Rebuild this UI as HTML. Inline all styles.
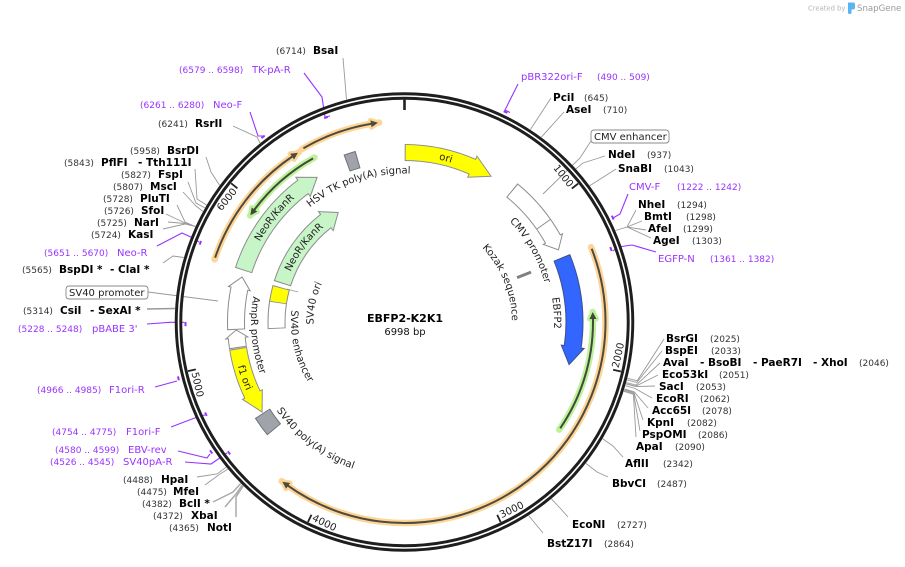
<!DOCTYPE html>
<html><head><meta charset="utf-8"><style>
html,body{margin:0;padding:0;background:#fff;width:905px;height:567px;overflow:hidden}
svg{display:block}
text{font-family:"DejaVu Sans","Liberation Sans",sans-serif}
.n{font-weight:bold;font-size:10.5px;fill:#000}
.p{font-size:9px;fill:#333}
.pr{font-size:10px;fill:#9933ff}
.pp{font-size:9px;fill:#9933ff}
.f{font-size:10px;fill:#222}
.t{font-size:10px;fill:#222}
</style></head><body>
<svg width="905" height="567" viewBox="0 0 905 567" xmlns="http://www.w3.org/2000/svg">
<defs>
<path id="cw166" d="M404.5,488 A166,166 0 1,1 404.5,156 A166,166 0 1,1 404.5,488"/>
<path id="cw165" d="M404.5,487.5 A165.5,165.5 0 1,1 404.5,156.5 A165.5,165.5 0 1,1 404.5,487.5"/>
<path id="cw124" d="M404.5,446.5 A124.5,124.5 0 1,1 404.5,197.5 A124.5,124.5 0 1,1 404.5,446.5"/>
<path id="cw148" d="M404.5,470.5 A148.5,148.5 0 1,1 404.5,173.5 A148.5,148.5 0 1,1 404.5,470.5"/>
<path id="cw145" d="M404.5,467.5 A145.5,145.5 0 1,1 404.5,176.5 A145.5,145.5 0 1,1 404.5,467.5"/>
<path id="cw107" d="M404.5,429.5 A107.5,107.5 0 1,1 404.5,214.5 A107.5,107.5 0 1,1 404.5,429.5"/>
<path id="cw149" d="M404.5,471.5 A149.5,149.5 0 1,1 404.5,172.5 A149.5,149.5 0 1,1 404.5,471.5"/>
<path id="cw91" d="M404.5,413 A91,91 0 1,1 404.5,231 A91,91 0 1,1 404.5,413"/>
<path id="ccw153" d="M404.5,168.5 A153.5,153.5 0 1,0 404.5,475.5 A153.5,153.5 0 1,0 404.5,168.5"/>
<path id="ccw113" d="M404.5,208.5 A113.5,113.5 0 1,0 404.5,435.5 A113.5,113.5 0 1,0 404.5,208.5"/>
<path id="ccw155" d="M404.5,166.5 A155.5,155.5 0 1,0 404.5,477.5 A155.5,155.5 0 1,0 404.5,166.5"/>
<path id="ccw172" d="M404.5,149.5 A172.5,172.5 0 1,0 404.5,494.5 A172.5,172.5 0 1,0 404.5,149.5"/>
</defs>

<!-- enzyme connector lines -->
<g fill="none" stroke="#999" stroke-width="0.9">
<polyline points="343,58 346.5,99.4"/>
<polyline points="233,126 257,137 260,143"/>
<polyline points="206,157 211,172 219.6,185.2"/>
<polyline points="195,169 197,199 206.5,205"/>
<polyline points="188,182 196,203 204.8,207.9"/>
<polyline points="183,192 196,206 202.8,211.4"/>
<polyline points="177,205 185,222 195.2,226.5"/>
<polyline points="166,214 185,223 195.2,226.5"/>
<polyline points="168,222 185,223.5 195.2,226.5"/>
<polyline points="163,229 185,224 195.2,226.5"/>
<polyline points="163,263 173,256 183.7,257.5"/>
<polyline points="148,292 218,301"/>
<polyline points="147,309 174.9,308.5" stroke-width="1.6"/>
<polyline points="197,477 217,474 226.1,467.2"/>
<polyline points="205,485 220,474 227.8,469.2"/>
<polyline points="213,502 233,492 240.7,483.5" stroke="#aaa" stroke-width="1.5"/>
<polyline points="225,507 236,494 242.2,485" stroke="#aaa" stroke-width="1.5"/>
<polyline points="236,517 236,497 243.2,486" stroke="#aaa" stroke-width="1.5"/>
<polyline points="530.4,129.5 551,98"/>
<polyline points="541.4,137.1 564,112"/>
<polyline points="591,141 580,158 543,194"/>
<polyline points="576,168.8 583,163 605,156"/>
<polyline points="589.7,185.7 616,169"/>
<polyline points="615.5,230.5 627,227 636,210"/>
<polyline points="627,227 642,221"/>
<polyline points="627,227 646,230"/>
<polyline points="627,227 651,238"/>
<polyline points="627.5,378.3 637.2,380.8 664,339"/>
<polyline points="627.1,379.9 636.8,382.5 662,351"/>
<polyline points="626.4,382.5 636.1,385.1 660,363"/>
<polyline points="626.1,383.5 635.8,386.2 658,375"/>
<polyline points="626.0,383.9 635.7,386.6 655,386"/>
<polyline points="625.5,385.7 635.1,388.5 652,398"/>
<polyline points="624.6,388.9 634.1,391.8 648,408"/>
<polyline points="624.3,389.7 633.9,392.6 643,420"/>
<polyline points="624.0,390.5 633.6,393.5 640,431"/>
<polyline points="623.8,391.3 633.4,394.3 636,437"/>
<polyline points="602.7,438.7 613,446 623,457"/>
<polyline points="585.9,463.4 597,472 608,477"/>
<polyline points="551.5,498.9 560,508 568,517"/>
<polyline points="528.7,515.6 543,533"/>
<polyline points="287,289 298,292"/>
</g>

<!-- primer lines -->
<g fill="none" stroke="#9933ff" stroke-width="1.1">
<polyline points="518,84 505,110 510,112.5"/>
<polyline points="628,194 620,214 613,218"/>
<polyline points="656,252 632,245 618,247 613,251"/>
<polyline points="304,73 322,97 325,117 330,116"/>
<polyline points="250,112 258,136 265,136"/>
<polyline points="157,246 182,233 193,238 199,242"/>
<polyline points="147,324 170,322.3 184.3,322.3"/>
<polyline points="155,387 177,381"/>
<polyline points="171,427 200,416 205,415"/>
<polyline points="178,451 207,458 210,454"/>
<polyline points="185,462 211,464 227,453"/>
</g>
<g fill="none" stroke="#9933ff" stroke-width="2">
<line x1="503.7" y1="111.2" x2="507.4" y2="112.9"/>
<line x1="611.8" y1="215.7" x2="613.7" y2="219.5"/>
<line x1="610.3" y1="247.1" x2="611.7" y2="251.1"/>
<line x1="324.2" y1="118.2" x2="327.8" y2="116.9"/>
<line x1="261.4" y1="138.1" x2="264.6" y2="135.7"/>
<line x1="199.7" y1="244.6" x2="201.0" y2="241.0"/>
<line x1="185.5" y1="326.2" x2="185.5" y2="322"/>
<line x1="178.9" y1="380.3" x2="177.9" y2="376.4"/>
<line x1="206.7" y1="415.9" x2="205.1" y2="412.5"/>
<line x1="212.3" y1="453.6" x2="210.0" y2="450.3"/>
<line x1="230.1" y1="454.4" x2="227.8" y2="451.3"/>
</g>

<!-- backbone ring -->
<circle cx="404.5" cy="322" r="226" fill="none" stroke="#1e1e1e" stroke-width="7.5"/>
<circle cx="404.5" cy="322" r="226" fill="none" stroke="#fff" stroke-width="1.6"/>

<!-- ticks -->
<g stroke="#222">
<line x1="404.5" y1="98" x2="404.5" y2="110" stroke-width="2.6"/>
<line x1="404.5" y1="100" x2="404.5" y2="108" stroke-width="1.8" transform="rotate(51.44 404.5 322)"/>
<line x1="404.5" y1="100" x2="404.5" y2="108" stroke-width="1.8" transform="rotate(102.89 404.5 322)"/>
<line x1="404.5" y1="100" x2="404.5" y2="108" stroke-width="1.8" transform="rotate(154.33 404.5 322)"/>
<line x1="404.5" y1="100" x2="404.5" y2="108" stroke-width="1.8" transform="rotate(205.77 404.5 322)"/>
<line x1="404.5" y1="100" x2="404.5" y2="108" stroke-width="1.8" transform="rotate(257.22 404.5 322)"/>
<line x1="404.5" y1="100" x2="404.5" y2="108" stroke-width="1.8" transform="rotate(308.66 404.5 322)"/>
</g>
<g class="t">
<text transform="rotate(51.44 404.5 322)" x="402" y="110" text-anchor="end">1000</text>
<text transform="rotate(308.66 404.5 322)" x="402" y="110" text-anchor="end">6000</text>
<text transform="rotate(282.89 404.5 322)" x="407" y="541">2000</text>
<text transform="rotate(334.33 404.5 322)" x="407" y="541">3000</text>
<text transform="rotate(25.77 404.5 322)" x="407" y="541">4000</text>
<text transform="rotate(77.22 404.5 322)" x="407" y="541">5000</text>
</g>

<!-- ORF-like arcs (orange/green) halos -->
<g fill="none" stroke-linecap="round" stroke-width="6.5">
<circle cx="404.5" cy="322" r="201" stroke="#fdd596" stroke-dasharray="82.09 1180.83" stroke-dashoffset="-839.14"/>
<circle cx="404.5" cy="322" r="200" stroke="#fdd596" stroke-dasharray="138.93 1117.71" stroke-dashoffset="-691.85"/>
<circle cx="404.5" cy="322" r="201" stroke="#fdd596" stroke-dasharray="524.8 738.12" stroke-dashoffset="-1185.74"/>
<circle cx="404.5" cy="322" r="188.5" stroke="#bdf29a" stroke-dasharray="125.0 1059.38" stroke-dashoffset="-1173.86"/>
<circle cx="404.5" cy="322" r="187.5" stroke="#bdf29a" stroke-dasharray="87.38 1090.72" stroke-dashoffset="-701.95"/>
</g>
<g stroke-linejoin="round">
<polygon points="404.5,117.5 411.5,121.1 404.5,124.5" fill="#fdd596" stroke="#fdd596" stroke-width="5" transform="rotate(350.4 404.5 322)"/>
<polygon points="404.5,118.5 411.48,122.12 404.5,125.5" fill="#fdd596" stroke="#fdd596" stroke-width="5" transform="rotate(325.8 404.5 322)"/>
<polygon points="404.5,117.5 411.5,121.1 404.5,124.5" fill="#fdd596" stroke="#fdd596" stroke-width="5" transform="rotate(215.4 404.5 322)"/>
<polygon points="404.5,130 397.49,133.63 404.5,137" fill="#bdf29a" stroke="#bdf29a" stroke-width="5" transform="rotate(89.1 404.5 322)"/>
<polygon points="404.5,131 397.5,134.63 404.5,138" fill="#bdf29a" stroke="#bdf29a" stroke-width="5" transform="rotate(306.84 404.5 322)"/>
</g>
<g fill="none" stroke-width="2">
<circle cx="404.5" cy="322" r="201" stroke="#4d4a40" stroke-dasharray="73.32 1189.60" stroke-dashoffset="-840.89"/>
<circle cx="404.5" cy="322" r="200" stroke="#4d4a40" stroke-dasharray="130.2 1126.44" stroke-dashoffset="-693.60"/>
<circle cx="404.5" cy="322" r="201" stroke="#4d4a40" stroke-dasharray="516.0 746.92" stroke-dashoffset="-1187.49"/>
<circle cx="404.5" cy="322" r="188.5" stroke="#3f4a38" stroke-dasharray="116.46 1067.92" stroke-dashoffset="-1180.77"/>
<circle cx="404.5" cy="322" r="187.5" stroke="#3f4a38" stroke-dasharray="78.87 1099.23" stroke-dashoffset="-708.82"/>
</g>
<polygon points="404.5,117.5 411.5,121.1 404.5,124.5" fill="#4d4a40" transform="rotate(350.4 404.5 322)"/>
<polygon points="404.5,118.5 411.48,122.12 404.5,125.5" fill="#4d4a40" transform="rotate(325.8 404.5 322)"/>
<polygon points="404.5,117.5 411.5,121.1 404.5,124.5" fill="#4d4a40" transform="rotate(215.4 404.5 322)"/>
<polygon points="404.5,130 397.49,133.63 404.5,137" fill="#3f4a38" transform="rotate(89.1 404.5 322)"/>
<polygon points="404.5,131 397.5,134.63 404.5,138" fill="#3f4a38" transform="rotate(306.84 404.5 322)"/>

<!-- feature bands -->
<g fill="none">
<!-- ori -->
<circle cx="404.5" cy="322" r="169.5" stroke="#8f8f8f" stroke-width="17" stroke-dasharray="69.96 995.03" stroke-dashoffset="-798.60"/>
<polygon points="404.5,141 425.45,153.8 404.5,164" fill="#ffff00" stroke="#8f8f8f" stroke-width="1" transform="rotate(23.6 404.5 322)"/>
<circle cx="404.5" cy="322" r="169.5" stroke="#ffff00" stroke-width="15" stroke-dasharray="70.11 994.88" stroke-dashoffset="-799.64"/>
<!-- outer NeoR -->
<circle cx="404.5" cy="322" r="169" stroke="#8c8c8c" stroke-width="18" stroke-dasharray="104.53 957.33" stroke-dashoffset="-583.02"/>
<polygon points="404.5,141 421.46,153.85 404.5,165" fill="#c8f5c8" stroke="#8c8c8c" stroke-width="1" transform="rotate(323.1 404.5 322)"/>
<circle cx="404.5" cy="322" r="169" stroke="#c8f5c8" stroke-width="16" stroke-dasharray="104.71 957.15" stroke-dashoffset="-584.02"/>
<!-- inner NeoR -->
<circle cx="404.5" cy="322" r="128" stroke="#8c8c8c" stroke-width="18" stroke-dasharray="77.54 726.71" stroke-dashoffset="-440.88"/>
<polygon points="404.5,182 419.52,194.88 404.5,206" fill="#c8f5c8" stroke="#8c8c8c" stroke-width="1" transform="rotate(322.06 404.5 322)"/>
<circle cx="404.5" cy="322" r="128" stroke="#c8f5c8" stroke-width="16" stroke-dasharray="77.52 726.73" stroke-dashoffset="-441.89"/>
<!-- SV40 enhancer -->
<circle cx="404.5" cy="322" r="128" stroke="#8c8c8c" stroke-width="18" stroke-dasharray="27.70 776.55" stroke-dashoffset="-395.20"/>
<circle cx="404.5" cy="322" r="128" stroke="#fff" stroke-width="16" stroke-dasharray="25.91 778.34" stroke-dashoffset="-396.09"/>
<!-- SV40 ori -->
<circle cx="404.5" cy="322" r="128" stroke="#8c8c8c" stroke-width="18" stroke-dasharray="15.86 788.39" stroke-dashoffset="-421.11"/>
<circle cx="404.5" cy="322" r="128" stroke="#ffff00" stroke-width="16" stroke-dasharray="14.07 790.18" stroke-dashoffset="-422.00"/>
<!-- SV40 promoter -->
<circle cx="404.5" cy="322" r="168.5" stroke="#8c8c8c" stroke-width="18" stroke-dasharray="41.67 1017.05" stroke-dashoffset="-521.27"/>
<polygon points="404.5,142.5 416.49,153.93 404.5,164.5" fill="#fff" stroke="#8c8c8c" stroke-width="1" transform="rotate(281.42 404.5 322)"/>
<circle cx="404.5" cy="322" r="168.5" stroke="#fff" stroke-width="16" stroke-dasharray="41.76 1016.96" stroke-dashoffset="-522.30"/>
<!-- AmpR promoter -->
<circle cx="404.5" cy="322" r="168.5" stroke="#8c8c8c" stroke-width="18" stroke-dasharray="10.38 1048.34" stroke-dashoffset="-503.04"/>
<polygon points="404.5,142.5 412.5,153.69 404.5,164.5" fill="#fff" stroke="#8c8c8c" stroke-width="1" transform="rotate(264.58 404.5 322)"/>
<circle cx="404.5" cy="322" r="168.5" stroke="#fff" stroke-width="16" stroke-dasharray="10.44 1048.28" stroke-dashoffset="-504.07"/>
<!-- f1 ori -->
<circle cx="404.5" cy="322" r="168.5" stroke="#8f8f8f" stroke-width="18" stroke-dasharray="48.38 1010.34" stroke-dashoffset="-454.36"/>
<polygon points="404.5,142.5 384.55,154.68 404.5,164.5" fill="#ffff00" stroke="#8f8f8f" stroke-width="1" transform="rotate(244.5 404.5 322)"/>
<circle cx="404.5" cy="322" r="168.5" stroke="#ffff00" stroke-width="16" stroke-dasharray="48.52 1010.20" stroke-dashoffset="-453.19"/>
<!-- SV40 polyA box -->
<circle cx="404.5" cy="322" r="169" stroke="#6f7378" stroke-width="18" stroke-dasharray="20.06 1041.80" stroke-dashoffset="-414.13"/>
<circle cx="404.5" cy="322" r="169" stroke="#a0a4aa" stroke-width="16" stroke-dasharray="18.29 1043.57" stroke-dashoffset="-415.01"/>
<!-- HSV TK polyA box -->
<circle cx="404.5" cy="322" r="169" stroke="#6f7378" stroke-width="18" stroke-dasharray="12.03 1049.83" stroke-dashoffset="-736.99"/>
<circle cx="404.5" cy="322" r="169" stroke="#a0a4aa" stroke-width="16" stroke-dasharray="10.03 1051.83" stroke-dashoffset="-737.99"/>
<!-- CMV promoter -->
<circle cx="404.5" cy="322" r="170" stroke="#8c8c8c" stroke-width="18" stroke-dasharray="64.53 1003.61" stroke-dashoffset="-916.97"/>
<polygon points="404.5,141 416.66,152.44 404.5,163" fill="#fff" stroke="#8c8c8c" stroke-width="1" transform="rotate(60.8 404.5 322)"/>
<circle cx="404.5" cy="322" r="170" stroke="#fff" stroke-width="16" stroke-dasharray="64.68 1003.46" stroke-dashoffset="-918.01"/>
<line x1="404.5" y1="144" x2="404.5" y2="160" stroke="#8c8c8c" stroke-width="1" transform="rotate(54.9 404.5 322)"/>
<!-- EBFP2 -->
<circle cx="404.5" cy="322" r="170" stroke="#3a4f8f" stroke-width="18" stroke-dasharray="91.53 976.61" stroke-dashoffset="-1001.53"/>
<polygon points="404.5,140.5 422.56,152.96 404.5,163.5" fill="#3366ff" stroke="#3a4f8f" stroke-width="1" transform="rotate(98.4 404.5 322)"/>
<circle cx="404.5" cy="322" r="170" stroke="#3366ff" stroke-width="16" stroke-dasharray="91.68 976.46" stroke-dashoffset="-1002.57"/>
<!-- Kozak -->
<line x1="404.5" y1="186" x2="404.5" y2="201" stroke="#808080" stroke-width="3" transform="rotate(68.5 404.5 322)"/>
</g>

<!-- feature labels -->
<g class="f">
<text text-anchor="middle"><textPath href="#cw166" startOffset="53.94%">ori</textPath></text>
<text text-anchor="middle"><textPath href="#cw165" startOffset="35.76%">NeoR/KanR</textPath></text>
<text text-anchor="middle"><textPath href="#cw124" startOffset="35.19%">NeoR/KanR</textPath></text>
<text text-anchor="middle"><textPath href="#cw148" startOffset="44.83%">HSV TK poly(A) signal</textPath></text>
<text text-anchor="middle"><textPath href="#cw145" startOffset="66.78%">CMV promoter</textPath></text>
<text text-anchor="middle"><textPath href="#cw107" startOffset="68.83%">Kozak sequence</textPath></text>
<text text-anchor="middle"><textPath href="#cw149" startOffset="74.06%">EBFP2</textPath></text>
<text text-anchor="middle"><textPath href="#cw91" startOffset="28.25%">SV40 ori</textPath></text>
<text text-anchor="middle"><textPath href="#ccw153" startOffset="26.42%">AmpR promoter</textPath></text>
<text text-anchor="middle"><textPath href="#ccw113" startOffset="28.64%">SV40 enhancer</textPath></text>
<text text-anchor="middle"><textPath href="#ccw155" startOffset="39.63%">SV40 poly(A) signal</textPath></text>
<text text-anchor="middle"><textPath href="#ccw172" startOffset="30.33%">f1 ori</textPath></text>
</g>

<!-- center -->
<text x="405" y="322" text-anchor="middle" style="font-weight:bold;font-size:11px;fill:#000">EBFP2-K2K1</text>
<text x="405" y="335" text-anchor="middle" style="font-size:10px;fill:#111">6998 bp</text>

<!-- boxed labels -->
<rect x="66" y="286" width="82" height="13" rx="3" fill="#fff" stroke="#888" stroke-width="0.9"/>
<text x="69" y="296" class="f">SV40 promoter</text>
<rect x="591" y="130" width="78" height="13" rx="3" fill="#fff" stroke="#888" stroke-width="0.9"/>
<text x="594" y="140" class="f">CMV enhancer</text>

<!-- left labels -->
<text class="p" x="276" y="54">(6714)</text><text class="n" x="313" y="54">BsaI</text>
<text class="pp" x="179" y="73">(6579 .. 6598)</text><text class="pr" x="252" y="73">TK-pA-R</text>
<text class="pp" x="140" y="108">(6261 .. 6280)</text><text class="pr" x="213" y="108">Neo-F</text>
<text class="p" x="158" y="127">(6241)</text><text class="n" x="195" y="127">RsrII</text>
<text class="p" x="130" y="154">(5958)</text><text class="n" x="167" y="154">BsrDI</text>
<text class="p" x="64" y="166">(5843)</text><text class="n" x="101" y="166">PflFI</text><text class="n" x="138" y="166">- Tth111I</text>
<text class="p" x="121" y="178">(5827)</text><text class="n" x="158" y="178">FspI</text>
<text class="p" x="113" y="190">(5807)</text><text class="n" x="150" y="190">MscI</text>
<text class="p" x="103" y="202">(5728)</text><text class="n" x="140" y="202">PluTI</text>
<text class="p" x="104" y="214">(5726)</text><text class="n" x="141" y="214">SfoI</text>
<text class="p" x="97" y="226">(5725)</text><text class="n" x="134" y="226">NarI</text>
<text class="p" x="91" y="238">(5724)</text><text class="n" x="128" y="238">KasI</text>
<text class="pp" x="44" y="256">(5651 .. 5670)</text><text class="pr" x="117" y="256">Neo-R</text>
<text class="p" x="22" y="273">(5565)</text><text class="n" x="59" y="273">BspDI *</text><text class="n" x="110" y="273">- ClaI *</text>
<text class="p" x="23" y="314">(5314)</text><text class="n" x="60" y="314">CsiI</text><text class="n" x="90" y="314">- SexAI *</text>
<text class="pp" x="18" y="332">(5228 .. 5248)</text><text class="pr" x="92" y="332">pBABE 3'</text>
<text class="pp" x="37" y="393">(4966 .. 4985)</text><text class="pr" x="109" y="393">F1ori-R</text>
<text class="pp" x="52" y="435">(4754 .. 4775)</text><text class="pr" x="126" y="435">F1ori-F</text>
<text class="pp" x="55" y="453">(4580 .. 4599)</text><text class="pr" x="128" y="453">EBV-rev</text>
<text class="pp" x="50" y="465">(4526 .. 4545)</text><text class="pr" x="123" y="465">SV40pA-R</text>
<text class="p" x="123" y="483">(4488)</text><text class="n" x="161" y="483">HpaI</text>
<text class="p" x="137" y="495">(4475)</text><text class="n" x="173" y="495">MfeI</text>
<text class="p" x="142" y="507">(4382)</text><text class="n" x="179" y="507">BclI *</text>
<text class="p" x="153" y="519">(4372)</text><text class="n" x="191" y="519">XbaI</text>
<text class="p" x="169" y="531">(4365)</text><text class="n" x="207" y="531">NotI</text>

<!-- right labels -->
<text class="pr" x="521" y="80">pBR322ori-F</text><text class="pp" x="597" y="80">(490 .. 509)</text>
<text class="n" x="553" y="101">PciI</text><text class="p" x="584" y="101">(645)</text>
<text class="n" x="566" y="113">AseI</text><text class="p" x="603" y="113">(710)</text>
<text class="n" x="608" y="158">NdeI</text><text class="p" x="647" y="158">(937)</text>
<text class="n" x="618" y="172">SnaBI</text><text class="p" x="664" y="172">(1043)</text>
<text class="pr" x="629" y="190">CMV-F</text><text class="pp" x="677" y="190">(1222 .. 1242)</text>
<text class="n" x="638" y="208">NheI</text><text class="p" x="677" y="208">(1294)</text>
<text class="n" x="644" y="220">BmtI</text><text class="p" x="686" y="220">(1298)</text>
<text class="n" x="648" y="232">AfeI</text><text class="p" x="683" y="232">(1299)</text>
<text class="n" x="653" y="244">AgeI</text><text class="p" x="692" y="244">(1303)</text>
<text class="pr" x="658" y="262">EGFP-N</text><text class="pp" x="710" y="262">(1361 .. 1382)</text>
<text class="n" x="666" y="342">BsrGI</text><text class="p" x="710" y="342">(2025)</text>
<text class="n" x="665" y="354">BspEI</text><text class="p" x="711" y="354">(2033)</text>
<text class="n" x="663" y="366">AvaI</text><text class="n" x="700" y="366">- BsoBI</text><text class="n" x="753" y="366">- PaeR7I</text><text class="n" x="813" y="366">- XhoI</text><text class="p" x="859" y="366">(2046)</text>
<text class="n" x="662" y="378">Eco53kI</text><text class="p" x="719" y="378">(2051)</text>
<text class="n" x="659" y="390">SacI</text><text class="p" x="696" y="390">(2053)</text>
<text class="n" x="656" y="402">EcoRI</text><text class="p" x="700" y="402">(2062)</text>
<text class="n" x="652" y="414">Acc65I</text><text class="p" x="702" y="414">(2078)</text>
<text class="n" x="647" y="426">KpnI</text><text class="p" x="687" y="426">(2082)</text>
<text class="n" x="642" y="438">PspOMI</text><text class="p" x="698" y="438">(2086)</text>
<text class="n" x="636" y="450">ApaI</text><text class="p" x="675" y="450">(2090)</text>
<text class="n" x="625" y="467">AflII</text><text class="p" x="663" y="467">(2342)</text>
<text class="n" x="612" y="487">BbvCI</text><text class="p" x="657" y="487">(2487)</text>
<text class="n" x="572" y="528">EcoNI</text><text class="p" x="617" y="528">(2727)</text>
<text class="n" x="547" y="547">BstZ17I</text><text class="p" x="604" y="547">(2864)</text>

<!-- watermark -->
<text x="808" y="10.5" style="font-size:6.8px;fill:#b4b4b4">Created by</text>
<path d="M848,2.5 h5 q2,0 2,2 v3 q0,2 -2,2 h-1.5 v3 q0,1.5 -1.5,1.5 h-0.5 q-1.5,0 -1.5,-1.5 z" fill="#5ab4f0"/>
<text x="857" y="11" style="font-size:8.6px;fill:#9a9a9a">SnapGene</text>
</svg>
</body></html>
